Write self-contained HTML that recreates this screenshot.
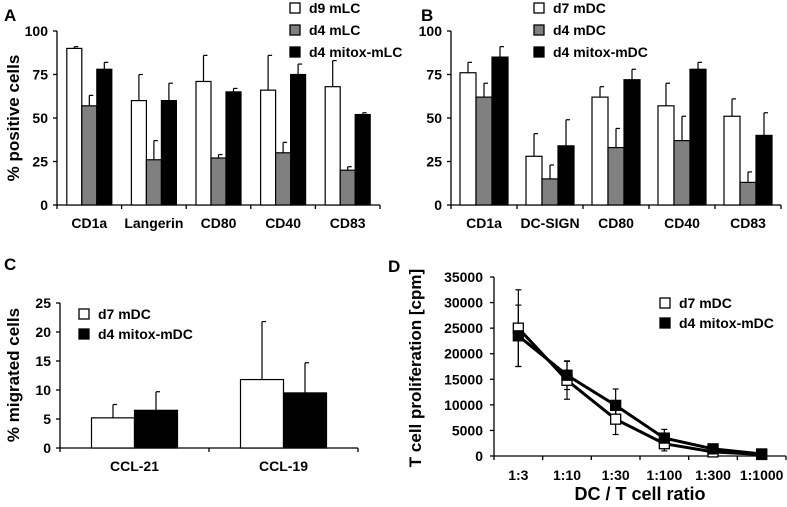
<!DOCTYPE html>
<html><head><meta charset="utf-8"><style>
html,body{margin:0;padding:0;background:#fff;}
svg{display:block;font-family:"Liberation Sans",Arial,sans-serif;font-weight:bold;}
</style></head><body>
<svg id="fig" width="787" height="507" viewBox="0 0 787 507"></svg>
<script>
// Panel A data
const aCats=["CD1a","Langerin","CD80","CD40","CD83"];
const aSeries=["d9 mLC","d4 mLC","d4 mitox-mLC"];
const aVals=[[90,60,71,66,68],[57,26,27,30,20],[78,60,65,75,52]];
const aErr=[[1,15,15,20,15],[6,11,2,6,2],[4,10,2,6,1]];
const abTicks=[0,25,50,75,100];
// Panel B data
const bCats=["CD1a","DC-SIGN","CD80","CD40","CD83"];
const bSeries=["d7 mDC","d4 mDC","d4 mitox-mDC"];
const bVals=[[76,28,62,57,51],[62,15,33,37,13],[85,34,72,78,40]];
const bErr=[[6,13,6,13,10],[8,8,11,14,6],[6,15,6,4,13]];
// Panel C data
const cCats=["CCL-21","CCL-19"];
const cSeries=["d7 mDC","d4 mitox-mDC"];
const cVals=[[5.2,11.8],[6.5,9.5]];
const cErr=[[2.3,10],[3.2,5.2]];
const cTicks=[0,5,10,15,20,25];
// Panel D data
const dCats=["1:3","1:10","1:30","1:100","1:300","1:1000"];
const dSeries=["d7 mDC","d4 mitox-mDC"];
const dVals=[[25000,14800,7200,2400,800,300],[23500,15800,9900,3500,1400,400]];
const dErr=[[7500,3700,3000,1400,700,200],[6000,2800,3200,1700,900,300]];
const dTicks=[0,5000,10000,15000,20000,25000,30000,35000];

const NS="http://www.w3.org/2000/svg";
const svg=document.getElementById('fig');
function el(tag,attrs,parent,text){const e=document.createElementNS(NS,tag);for(const k in attrs)e.setAttribute(k,attrs[k]);if(text!==undefined)e.textContent=text;(parent||svg).appendChild(e);return e;}
const fills=["#fff","#808080","#000"];

function label(txt,x,y,name){
  const t=el('text',{x:x,y:y,'font-size':17},svg,txt);
  
  
}
function ytitle(txt,x,y,name,size){
  const t=el('text',{x:x,y:y,'font-size':size||17,'text-anchor':'middle',transform:`rotate(-90 ${x} ${y})`},svg,txt);
  
  
}
function legend(series,colors,x,y0,dy,name){
  const g=el('g',{});
  
  
  series.forEach((s,i)=>{
    const y=y0+i*dy;
    const r=el('rect',{x:x,y:y-5,width:10,height:10,fill:colors[i],stroke:'#000','stroke-width':1.3},g);
    
    
    const t=el('text',{x:x+19,y:y+5,'font-size':14},g,s);
    
    
  });
}
function barChart(o){
  const g=el('g',{});
  
  
  const ys=v=>o.y0-(v-o.min)/(o.max-o.min)*(o.y0-o.y1);
  const cw=(o.xEnd-o.x0)/o.cats.length;
  el('line',{x1:o.x0,y1:o.y1,x2:o.x0,y2:o.y0,stroke:'#000','stroke-width':1.3},g);
  el('line',{x1:o.x0,y1:o.y0,x2:o.xEnd,y2:o.y0,stroke:'#000','stroke-width':1.3},g);
  o.ticks.forEach(t=>{
    const y=ys(t);
    el('line',{x1:o.x0-4,y1:y,x2:o.x0,y2:y,stroke:'#000','stroke-width':1.3},g);
    const tx=el('text',{x:o.x0-9,y:y+5,'font-size':14,'text-anchor':'end'},g,t);
    
    
  });
  for(let i=0;i<=o.cats.length;i++){
    const x=o.x0+i*cw;
    el('line',{x1:x,y1:o.y0,x2:x,y2:o.y0+4,stroke:'#000','stroke-width':1.3},g);
  }
  const n=o.vals.length;
  o.cats.forEach((c,i)=>{
    const cx=o.x0+(i+0.5)*cw;
    const gs=o.bw*n;
    for(let s=0;s<n;s++){
      const x=cx-gs/2+s*o.bw;
      const v=o.vals[s][i], e=o.err[s][i];
      const ye=ys(v+e);
      el('line',{x1:x+o.bw/2,y1:ys(v),x2:x+o.bw/2,y2:ye,stroke:'#000','stroke-width':1.2},g);
      el('line',{x1:x+o.bw/2,y1:ye,x2:x+o.bw/2+4,y2:ye,stroke:'#000','stroke-width':1.2},g);
      const r=el('rect',{x:x,y:ys(v),width:o.bw,height:o.y0-ys(v),fill:o.colors[s],stroke:'#000','stroke-width':1.2},g);
      
      
    }
    const t=el('text',{x:cx,y:o.y0+23,'font-size':14,'text-anchor':'middle'},g,c);
    
    
  });
}

// Panel A
label("A",4,21,"panel-a-label");
ytitle("% positive cells",19,118,"y-axis-title-a");
barChart({name:'panel-a-chart',cats:aCats,vals:aVals,err:aErr,ticks:abTicks,min:0,max:100,x0:57,xEnd:380,y0:205,y1:31,bw:15,colors:fills});
legend(aSeries,fills,290,8,22,'legend-a');
// Panel B
label("B",421,21,"panel-b-label");
barChart({name:'panel-b-chart',cats:bCats,vals:bVals,err:bErr,ticks:abTicks,min:0,max:100,x0:451,xEnd:781,y0:205,y1:31,bw:16,colors:fills});
legend(bSeries,fills,534,8,22,'legend-b');
// Panel C
label("C",4,270,"panel-c-label");
ytitle("% migrated cells",19,375,"y-axis-title-c");
barChart({name:'panel-c-chart',cats:cCats,vals:cVals,err:cErr,ticks:cTicks,min:0,max:25,x0:60,xEnd:358,y0:448,y1:303,bw:43,colors:["#fff","#000"]});
legend(cSeries,["#fff","#000"],79,314,20,'legend-c');

// Panel D
(function(){
  const g=el('g',{});
  
  
  const x0=494,xEnd=786,y0=456,y1=277,max=35000;
  const ys=v=>y0-v/max*(y0-y1);
  const cw=(xEnd-x0)/dCats.length;
  const xs=i=>x0+(i+0.5)*cw;
  el('line',{x1:x0,y1:y1,x2:x0,y2:y0,stroke:'#000','stroke-width':1.3},g);
  el('line',{x1:x0,y1:y0,x2:xEnd,y2:y0,stroke:'#000','stroke-width':1.3},g);
  dTicks.forEach(t=>{
    const y=ys(t);
    el('line',{x1:x0-4,y1:y,x2:x0,y2:y,stroke:'#000','stroke-width':1.3},g);
    const tx=el('text',{x:x0-11,y:y+5,'font-size':14,'text-anchor':'end'},g,t);
    
    
  });
  for(let i=0;i<=dCats.length;i++){
    const x=x0+i*cw;
    el('line',{x1:x,y1:y0,x2:x,y2:y0+4,stroke:'#000','stroke-width':1.3},g);
  }
  dCats.forEach((c,i)=>{
    const t=el('text',{x:xs(i),y:y0+24,'font-size':14,'text-anchor':'middle'},g,c);
    
    
  });
  const cols=["#fff","#000"];
  dVals.forEach((ser,s)=>{
    ser.forEach((v,i)=>{
      const x=xs(i);
      el('line',{x1:x,y1:ys(v-dErr[s][i]),x2:x,y2:ys(v+dErr[s][i]),stroke:'#000','stroke-width':1.2},g);
      [v-dErr[s][i],v+dErr[s][i]].forEach(ev=>el('line',{x1:x-3,y1:ys(ev),x2:x+3,y2:ys(ev),stroke:'#000','stroke-width':1.2},g));
    });
    const p=el('polyline',{points:ser.map((v,i)=>xs(i)+','+ys(v)).join(' '),fill:'none',stroke:'#000','stroke-width':3},g);
    
    
  });
  dVals.forEach((ser,s)=>{
    ser.forEach((v,i)=>{
      const r=el('rect',{x:xs(i)-5,y:ys(v)-5,width:10,height:10,fill:cols[s],stroke:'#000','stroke-width':1.3},g);
      
      
    });
  });
})();
label("D",388,272,"panel-d-label");
ytitle("T cell proliferation [cpm]",421,368,"y-axis-title-d");
legend(dSeries,["#fff","#000"],660,303,20,'legend-d');
const xt=el('text',{x:640,y:500,'font-size':18,'text-anchor':'middle'},svg,"DC / T cell ratio");


</script>
</body></html>
